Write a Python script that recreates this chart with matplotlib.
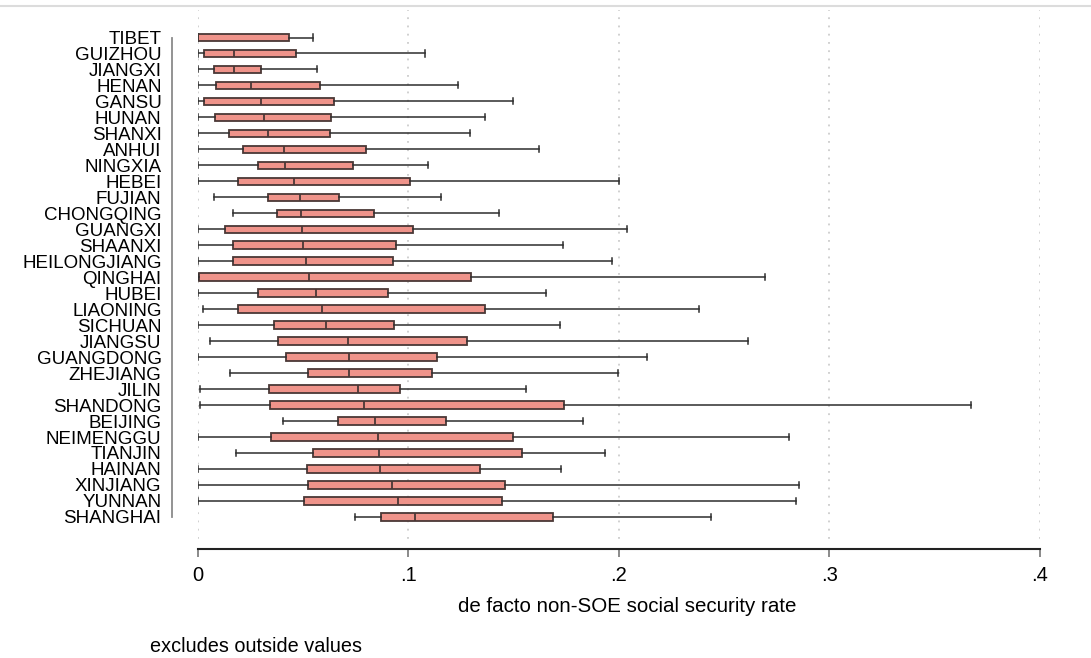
import matplotlib
matplotlib.use("Agg")
import matplotlib.pyplot as plt
from matplotlib.lines import Line2D

provinces = ["TIBET", "GUIZHOU", "JIANGXI", "HENAN", "GANSU", "HUNAN", "SHANXI",
             "ANHUI", "NINGXIA", "HEBEI", "FUJIAN", "CHONGQING", "GUANGXI", "SHAANXI",
             "HEILONGJIANG", "QINGHAI", "HUBEI", "LIAONING", "SICHUAN", "JIANGSU",
             "GUANGDONG", "ZHEJIANG", "JILIN", "SHANDONG", "BEIJING", "NEIMENGGU",
             "TIANJIN", "HAINAN", "XINJIANG", "YUNNAN", "SHANGHAI"]

whisker_low = [0.0, 0.0, 0.0, 0.0, 0.0, 0.0, 0.0,
               0.0, 0.0, 0.0, 0.0077, 0.0167, 0.0, 0.0,
               0.0, 0.0, 0.0, 0.0024, 0.0, 0.0061,
               0.0, 0.0156, 0.001, 0.001, 0.0406, 0.0,
               0.0185, 0.0, 0.0, 0.0, 0.0747]
q1 = [0.0, 0.003, 0.0077, 0.0089, 0.003, 0.0083, 0.015,
      0.0217, 0.0286, 0.0193, 0.0333, 0.0376, 0.0132, 0.0169,
      0.0167, 0.0008, 0.0288, 0.0191, 0.0363, 0.038,
      0.042, 0.0526, 0.0339, 0.0345, 0.0668, 0.0351,
      0.055, 0.052, 0.0526, 0.0506, 0.0869]
median = [0.0, 0.0171, 0.0173, 0.0252, 0.0303, 0.0317, 0.0337,
          0.041, 0.0416, 0.0457, 0.0487, 0.0491, 0.0497, 0.0499,
          0.0516, 0.053, 0.0564, 0.0589, 0.0611, 0.0713,
          0.0721, 0.0721, 0.0763, 0.0792, 0.0845, 0.0855,
          0.0861, 0.0867, 0.0924, 0.0954, 0.1033]
q3 = [0.0436, 0.0467, 0.030, 0.0583, 0.0648, 0.0633, 0.0627,
      0.0802, 0.0739, 0.1009, 0.0672, 0.0839, 0.1023, 0.0942,
      0.0928, 0.1297, 0.0904, 0.1367, 0.0932, 0.1281,
      0.1137, 0.1113, 0.096, 0.1738, 0.1182, 0.1496,
      0.1541, 0.1342, 0.1462, 0.1448, 0.1687]
whisker_high = [0.0548, 0.108, 0.0567, 0.1237, 0.150, 0.1367, 0.1293,
                0.1622, 0.1096, 0.2002, 0.1155, 0.1433, 0.2039, 0.1736,
                0.1969, 0.2696, 0.1655, 0.2379, 0.1719, 0.2615,
                0.2136, 0.1997, 0.1558, 0.3672, 0.1832, 0.281,
                0.1934, 0.1727, 0.2854, 0.284, 0.244]

xticks = [0, 0.1, 0.2, 0.3, 0.4]
xticklabels = ["0", ".1", ".2", ".3", ".4"]
xlabel = "de facto non-SOE social security rate"
note = "excludes outside values"

plt.rcParams['font.family'] = ['Liberation Sans', 'DejaVu Sans']

W, H = 1091, 658
fig = plt.figure(figsize=(W / 100, H / 100), dpi=100)
fig.patch.set_facecolor("white")

left_px, right_px = 197.5, 1040.0
top_px, bottom_px = 9.5, 549.0
ax = fig.add_axes([left_px / W, 1 - bottom_px / H,
                   (right_px - left_px) / W, (bottom_px - top_px) / H])

row0_px, rowstep = 37.5, 15.98
ylim_top = (top_px - row0_px) / rowstep
ylim_bot = (bottom_px - row0_px) / rowstep
grid_end = (542.7 - row0_px) / rowstep

# gridlines
ax.vlines(xticks, ylim_top, grid_end, colors="#c4c4c4", linestyles=(0, (1.2, 4.2)),
          linewidth=1.1, zorder=0)

stats = []
for i, name in enumerate(provinces):
    stats.append(dict(label=name, whislo=whisker_low[i], q1=q1[i], med=median[i],
                      q3=q3[i], whishi=whisker_high[i], fliers=[]))

positions = list(range(len(provinces)))
edge = "#4a3836"
ax.bxp(stats, positions=positions, widths=0.47, orientation="horizontal",
       patch_artist=True, showfliers=False, capwidths=0.38,
       boxprops=dict(facecolor="#ef938a", edgecolor=edge, linewidth=1.3),
       medianprops=dict(color=edge, linewidth=1.3),
       whiskerprops=dict(color="#2e2e2e", linewidth=1.1),
       capprops=dict(color="#2e2e2e", linewidth=1.1),
       manage_ticks=False, zorder=3)

ax.set_xlim(0, 0.4)
ax.set_ylim(ylim_bot, ylim_top)

for s in ["top", "right", "left"]:
    ax.spines[s].set_visible(False)
ax.spines["bottom"].set_color("#222222")
ax.spines["bottom"].set_linewidth(1.5)

ax.set_xticks(xticks)
ax.set_xticklabels(xticklabels, fontsize=14.5)
ax.tick_params(axis="x", direction="out", length=6, width=1.2, color="#777777", pad=6)

label_pad_pt = (left_px - 161.5) * 0.72
ax.set_yticks(positions)
ax.set_yticklabels(provinces, fontsize=13.5)
ax.tick_params(axis="y", length=0, pad=label_pad_pt)

# category axis line
axline_x = (171.7 - left_px) / (right_px - left_px)
ax.plot([axline_x, axline_x], [0, len(provinces) - 1], color="#8a8a8a", linewidth=1.3,
        transform=ax.get_yaxis_transform(), clip_on=False)

fig.text(627 / W, 1 - 607 / H, xlabel, fontsize=14.8, ha="center", va="center")
fig.text(150 / W, 1 - 647 / H, note, fontsize=14.3, ha="left", va="center")

# top separator line
fig.add_artist(Line2D([0, 1], [1 - 6 / H, 1 - 6 / H], color="#dcdcdc", linewidth=1.5))

fig.savefig("out.png", dpi=100, facecolor="white")
